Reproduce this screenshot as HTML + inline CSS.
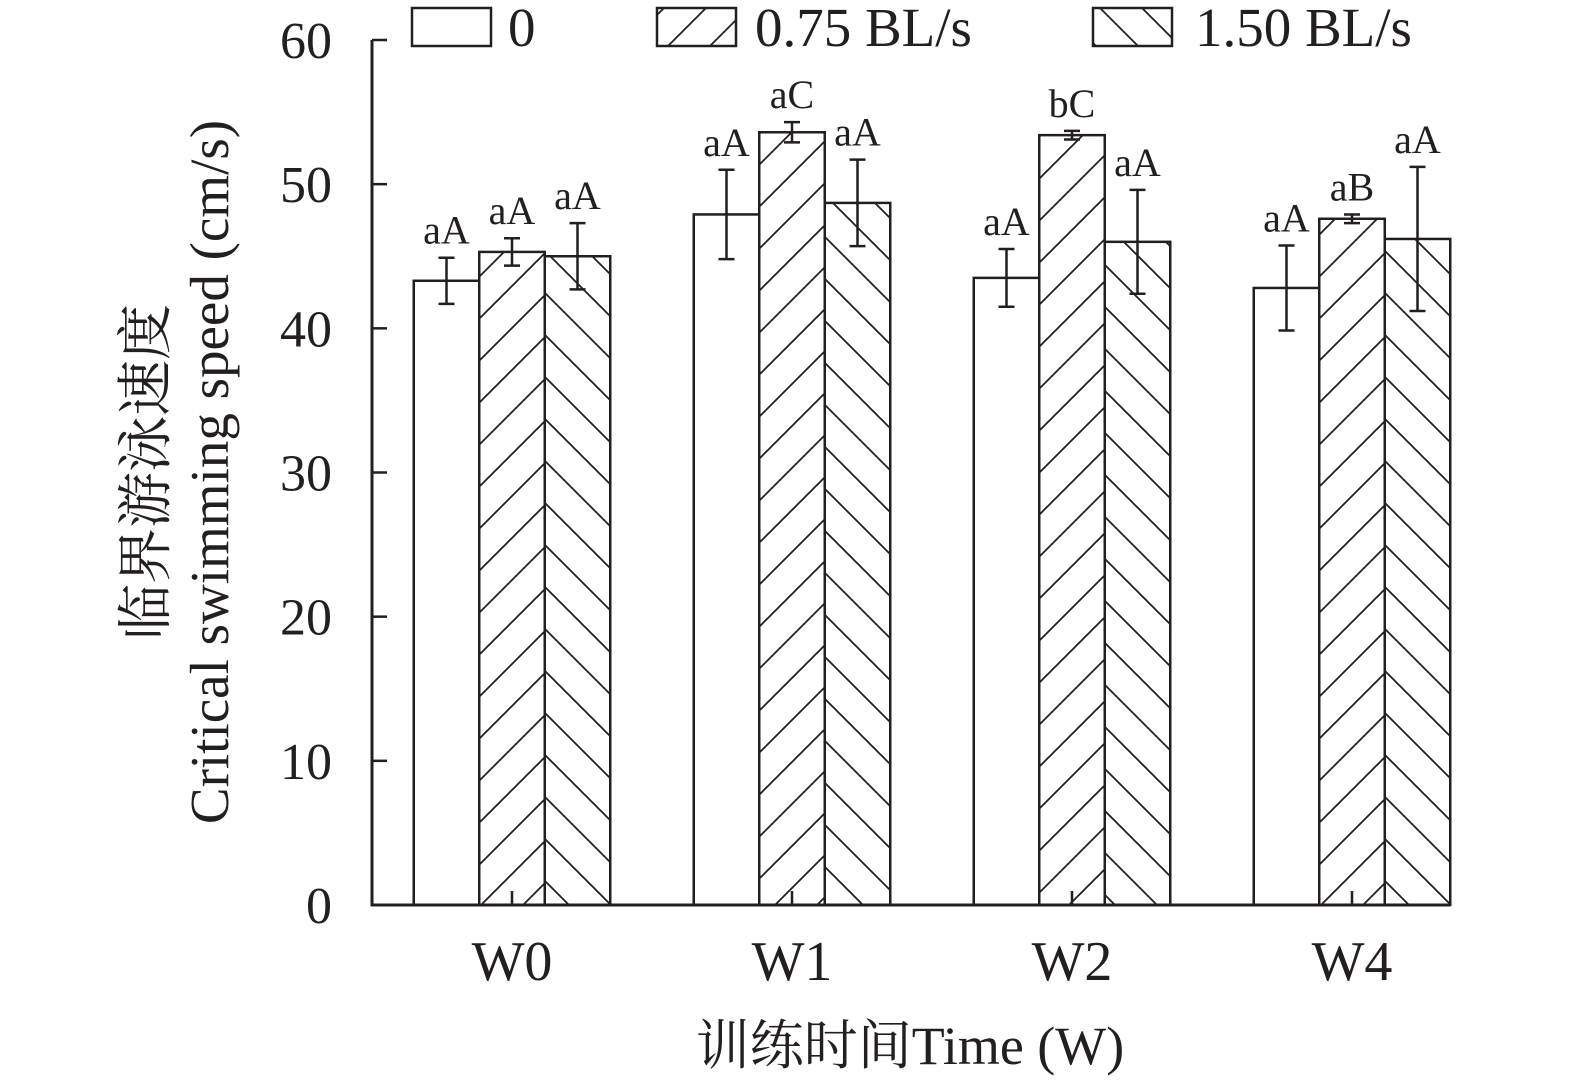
<!DOCTYPE html>
<html><head><meta charset="utf-8"><style>
body{margin:0;background:#fff}
text{font-family:"Liberation Serif","Noto Serif CJK SC",serif;fill:#231f20}
</style></head><body>
<svg id="c" width="1575" height="1086" viewBox="0 0 1575 1086" xmlns="http://www.w3.org/2000/svg">
<defs>
<pattern id="fw" patternUnits="userSpaceOnUse" width="42" height="42"><path d="M-5,47 L47,-5 M-26,26 L26,-26 M16,68 L68,16" stroke="#231f20" stroke-width="1.8"/></pattern>
<pattern id="bw" patternUnits="userSpaceOnUse" width="42" height="42"><path d="M-5,-5 L47,47 M-26,16 L26,68 M16,-26 L68,26" stroke="#231f20" stroke-width="1.8"/></pattern>
</defs>
<g id="plot"></g>
</svg>
<script>
const groups=["W0","W1","W2","W4"];
const s0=[43.3,47.9,43.5,42.8];
const s1=[45.3,53.6,53.4,47.6];
const s2=[45.0,48.7,46.0,46.2];
const e0=[1.6,3.1,2.0,2.95];
const e1=[0.95,0.7,0.3,0.3];
const e2=[2.3,3.0,3.6,5.0];
const l0=["aA","aA","aA","aA"];
const l1=["aA","aC","bC","aB"];
const l2=["aA","aA","aA","aA"];
const yTicks=[0,10,20,30,40,50,60];
const seriesNames=["0","0.75 BL/s","1.50 BL/s"];
const NS="http://www.w3.org/2000/svg";
const g=document.getElementById('plot');
const X0=372,Y0=905,YT=40,XR=1450;
function y(v){return Y0-(v/60)*(Y0-YT);}
function gc(i){return 512+i*280;}
function mk(t,a,p){const e=document.createElementNS(NS,t);for(const k in a)e.setAttribute(k,a[k]);if(p)p.appendChild(e);else g.appendChild(e);return e;}
const fills=["#fff","url(#fw)","url(#bw)"];
const S=[s0,s1,s2],E=[e0,e1,e2],L=[l0,l1,l2];
const bw=65.5;
groups.forEach((name,i)=>{
  for(let k=0;k<3;k++){
    const x=gc(i)-bw*1.5+k*bw, v=S[k][i];
    const r=mk('rect',{x:x,y:y(v),width:bw,height:Y0-y(v),fill:fills[k],stroke:'#231f20','stroke-width':2.5});
    
    
    const cx=x+bw/2,t=y(v+E[k][i]),b=y(v-E[k][i]);
    const eb=mk('path',{d:`M${cx},${t}V${b}M${cx-8},${t}H${cx+8}M${cx-8},${b}H${cx+8}`,stroke:'#231f20','stroke-width':2.5,fill:'none'});
    
    
    const lb=mk('text',{x:cx,y:t-14,'text-anchor':'middle','font-size':40});
    lb.textContent=L[k][i];
    
    
  }
  const tk=mk('line',{x1:gc(i),x2:gc(i),y1:Y0,y2:Y0-14,stroke:'#231f20','stroke-width':2.5});
  
  
  const xl=mk('text',{x:gc(i),y:980,'text-anchor':'middle','font-size':56});
  xl.textContent=name;
  
  
});
yTicks.forEach(v=>{
  const tk=mk('line',{x1:X0,x2:X0+15,y1:y(v),y2:y(v),stroke:'#231f20','stroke-width':2.5});
  
  
  const tl=mk('text',{x:332,y:y(v)+18,'text-anchor':'end','font-size':52});
  tl.textContent=v;
  
  
});
const ax=mk('path',{d:`M${X0},${YT}V${Y0}H${XR}`,stroke:'#231f20','stroke-width':3,fill:'none'});


const lx=[412,657,1093],tx=[508,755,1195];
for(let k=0;k<3;k++){
  const r=mk('rect',{x:lx[k],y:8,width:79,height:38,fill:fills[k],stroke:'#231f20','stroke-width':2.5});
  
  
  const t=mk('text',{x:tx[k],y:46,'font-size':55});
  t.textContent=seriesNames[k];
  
  
}
const yt=mk('text',{transform:'translate(165,472) rotate(-90)','text-anchor':'middle','font-size':56});


yt.textContent='临界游泳速度';
const yt2=mk('text',{transform:'translate(228,472) rotate(-90)','text-anchor':'middle','font-size':55});


yt2.textContent='Critical swimming speed (cm/s)';
const xt=mk('text',{x:910,y:1064,'text-anchor':'middle','font-size':54});


xt.textContent='训练时间Time (W)';
</script>
</body></html>
